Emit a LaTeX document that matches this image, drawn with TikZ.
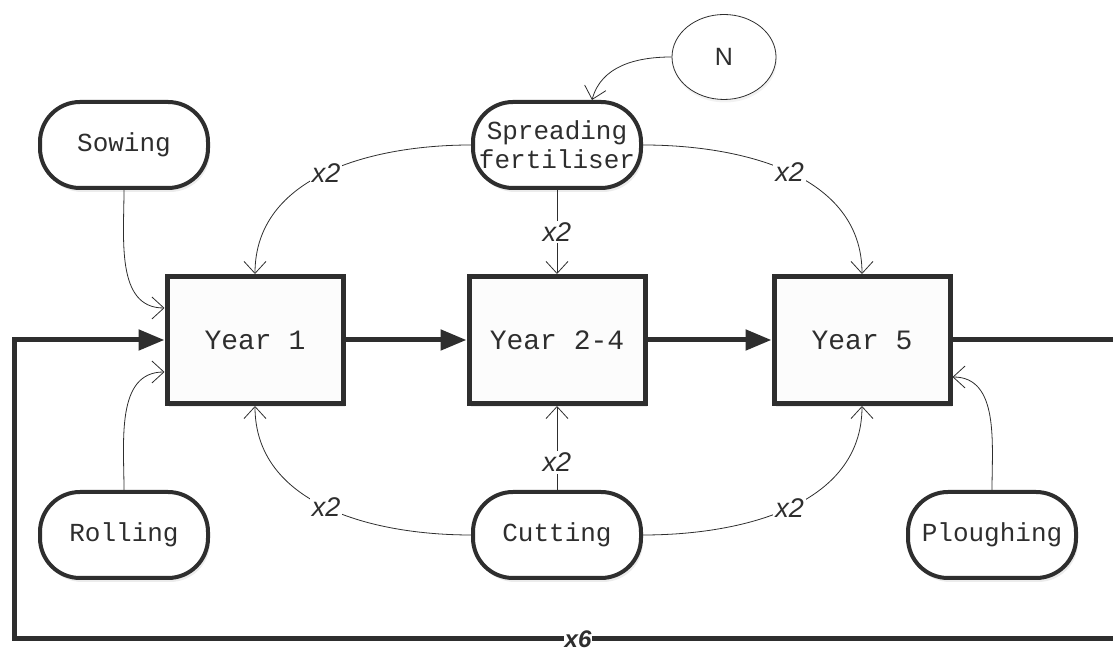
\documentclass[tikz,border=0pt]{standalone}
\usepackage{fontspec}
\setmainfont{Liberation Sans}
\newfontfamily\monof{Liberation Mono}
\usetikzlibrary{arrows.meta,shadows,calc,shapes.geometric}
\definecolor{ink}{HTML}{2E2E2E}
\tikzset{
  yearbox/.style={draw=ink,line width=5pt,fill=white!99!black,minimum width=176pt,minimum height=127pt,inner sep=0pt,font=\monof\fontsize{28}{32}\selectfont,text=ink,drop shadow={opacity=0.15,shadow xshift=2pt,shadow yshift=-4pt}},
  task/.style={draw=ink,line width=4pt,fill=white,rounded corners=40pt,minimum width=168pt,minimum height=86pt,inner sep=0pt,align=center,font=\monof\fontsize{26}{29}\selectfont,text=ink,drop shadow={opacity=0.15,shadow xshift=2pt,shadow yshift=-4pt}},
  thin/.style={draw=ink,line width=0.8pt,-{Straight Barb[length=12pt,width=22pt,line width=0.8pt]}},
  thick/.style={draw=ink,line width=5pt,-{Triangle[length=26pt,width=20pt]}},
  lab/.style={fill=white,inner sep=2pt,font=\itshape\fontsize{27}{30}\selectfont,text=ink},
}
\begin{document}
\begin{tikzpicture}[x=1pt,y=1pt]
\useasboundingbox (0,0) rectangle (1113,652);
% main boxes
\node[yearbox] (y1) at (255,312) {Year 1};
\node[yearbox] (y24) at (557,312) {Year 2-4};
\node[yearbox] (y5) at (862,312) {Year 5};
% tasks
\node[task] (sow) at (124,507) {Sowing};
\node[task] (roll) at (124,117) {Rolling};
\node[task] (spr) at (557,507) {Spreading\\fertiliser};
\node[task] (cut) at (557,117) {Cutting};
\node[task] (plough) at (992,117) {Ploughing};
\node[draw=ink,line width=0.8pt,ellipse,fill=white,minimum width=104pt,minimum height=85pt,inner sep=0pt,font=\fontsize{25}{28}\selectfont,text=ink,drop shadow={opacity=0.1,shadow xshift=1pt,shadow yshift=-3pt}] (n) at (724,595) {N};
% loop coordinates
\coordinate (r1) at (1120,312);
\coordinate (r2) at (1120,13);
\coordinate (l2) at (14,13);
\coordinate (l1) at (14,312);
% thick arrows
\draw[thick] (y1) -- (y24);
\draw[thick] (y24) -- (y5);
\draw[thick] (y5.east) -- (r1) -- (r2) -- (l2) -- (l1) -- (y1.west);
\node[fill=white,inner xsep=1pt,inner ysep=0pt,font=\bfseries\itshape\fontsize{24}{26}\selectfont,text=ink] (x6) at (578,13) {x6};
% thin connectors
\draw[thin] (sow.south) to[out=-90,in=180] ($(y1.west)+(0,32)$);
\draw[thin] (roll.north) to[out=90,in=180] ($(y1.west)+(0,-32)$);
\draw[thin] (plough.north) to[out=90,in=0] ($(y5.east)+(0,-37)$);
\draw[thin] (n.west) to[out=180,in=75] ($(spr.north)+(35,0)$);
\draw[thin] (spr.west) to[out=180,in=90] node[lab,pos=0.5] (l1a) {x2} (y1.north);
\draw[thin] (spr.east) to[out=0,in=90] node[lab,pos=0.5] (l1b) {x2} (y5.north);
\draw[thin] (spr.south) -- node[lab,pos=0.5] (l1c) {x2} (y24.north);
\draw[thin] (cut.west) to[out=180,in=-90] node[lab,pos=0.5] (l2a) {x2} (y1.south);
\draw[thin] (cut.east) to[out=0,in=-90] node[lab,pos=0.5] (l2b) {x2} (y5.south);
\draw[thin] (cut.north) -- node[lab,pos=0.33] (l2c) {x2} (y24.south);
\end{tikzpicture}
\end{document}
